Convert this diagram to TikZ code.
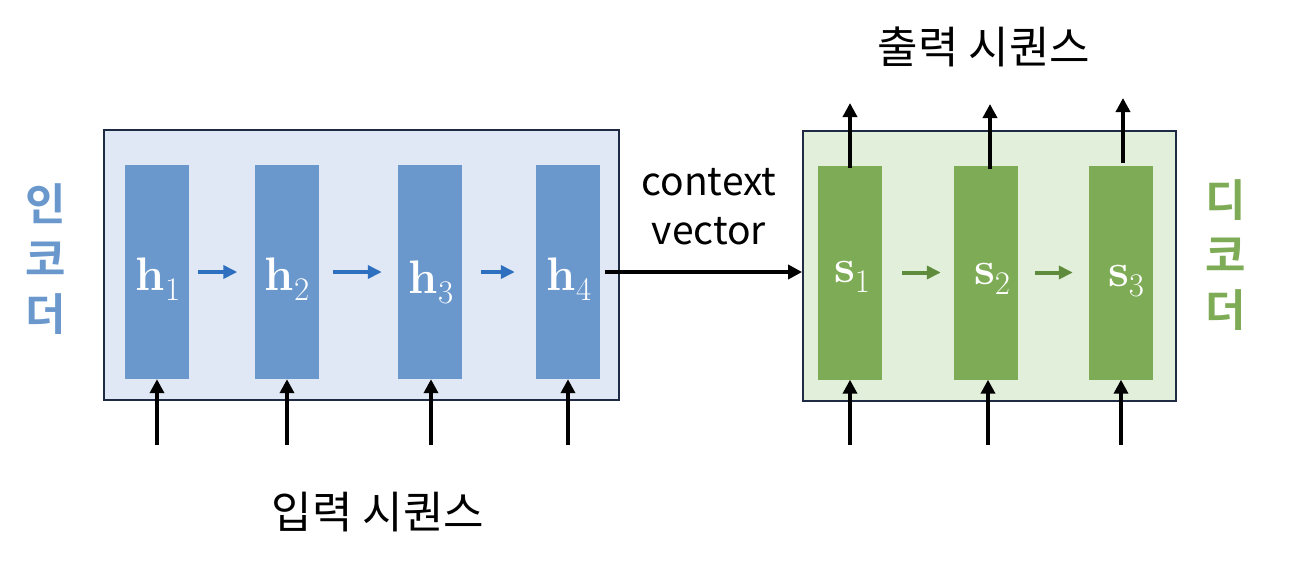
\documentclass[tikz,border=0pt]{standalone}
\usepackage{fontspec}
\newfontfamily\kr{Noto Sans CJK KR}
\newfontfamily\krb{Noto Sans CJK KR Bold}
\usetikzlibrary{arrows.meta}
\definecolor{encfill}{HTML}{DFE8F4}
\definecolor{decfill}{HTML}{E2EFDA}
\definecolor{frame}{HTML}{1F2A44}
\definecolor{hblue}{HTML}{6A98CD}
\definecolor{sgreen}{HTML}{7EAB55}
\definecolor{arrblue}{HTML}{2E6FC0}
\definecolor{arrgreen}{HTML}{5E8C3C}
\newcommand{\vecsub}[2]{\textbf{#1}\raisebox{-10pt}{\fontsize{33}{33}\selectfont #2}}
\begin{document}
\begin{tikzpicture}[x=1pt,y=-1pt,
  outerbox/.style={draw=frame,line width=1.8pt,inner sep=0,minimum height=270pt},
  cell/.style={inner sep=0,minimum width=64pt,minimum height=214pt,text=white,font=\fontsize{47}{47}\selectfont},
  hcell/.style={cell,fill=hblue},
  scell/.style={cell,fill=sgreen},
  inarr/.style={line width=4pt,-{Triangle[length=14pt,width=14pt]}},
  harr/.style={line width=4pt,draw=arrblue,-{Triangle[length=14pt,width=13pt]}},
  sarr/.style={line width=4pt,draw=arrgreen,-{Triangle[length=14pt,width=13pt]}},
  side/.style={font=\krb\fontsize{44}{55}\selectfont,align=center},
  lbl/.style={font=\kr\fontsize{44}{44}\selectfont}
]
\useasboundingbox (0,0) rectangle (1308,560);
% boxes
\node[outerbox,fill=encfill,minimum width=515pt] (enc) at (361.5,265) {};
\node[outerbox,fill=decfill,minimum width=373pt] (dec) at (989.5,266) {};
% encoder cells
\node[hcell] (h1) at (157,272) {};
\node[hcell] (h2) at (286.5,272) {};
\node[hcell] (h3) at (430,272) {};
\node[hcell] (h4) at (568,272) {};
\node[text=white,font=\fontsize{47}{47}\selectfont,inner sep=0] (h1l) at (158,279) {\vecsub{h}{1}};
\node[text=white,font=\fontsize{47}{47}\selectfont,inner sep=0] (h2l) at (287,279) {\vecsub{h}{2}};
\node[text=white,font=\fontsize{47}{47}\selectfont,inner sep=0] (h3l) at (431,282) {\vecsub{h}{3}};
\node[text=white,font=\fontsize{47}{47}\selectfont,inner sep=0] (h4l) at (569,279) {\vecsub{h}{4}};
% decoder cells
\node[scell] (s1) at (850,272.5) {};
\node[scell] (s2) at (986,272.5) {};
\node[scell] (s3) at (1121,272.5) {};
\node[text=white,font=\fontsize{47}{47}\selectfont,inner sep=0] (s1l) at (852,277) {\vecsub{s}{1}};
\node[text=white,font=\fontsize{47}{47}\selectfont,inner sep=0] (s2l) at (992,279) {\vecsub{s}{2}};
\node[text=white,font=\fontsize{47}{47}\selectfont,inner sep=0] (s3l) at (1126,281) {\vecsub{s}{3}};
% horizontal arrows
\draw[harr] ([xshift=9pt]h1.east) -- ([xshift=-17pt]h2.west);
\draw[harr] ([xshift=14pt]h2.east) -- ([xshift=-16pt]h3.west);
\draw[harr] ([xshift=19pt]h3.east) -- ([xshift=-21pt]h4.west);
\draw[sarr] ([xshift=20pt]s1.east) -- ([xshift=-13pt]s2.west);
\draw[sarr] ([xshift=17pt]s2.east) -- ([xshift=-16pt]s3.west);
% context vector
\draw[inarr] ([xshift=5pt]h4.east) -- (h4.east -| dec.west);
\node[font=\kr\fontsize{39}{49}\selectfont,align=center] (ctx) at (709,207) {context\\vector};
% input arrows
\foreach \n/\x in {h1/157,h2/287,h3/431,h4/568,s1/850,s2/988,s3/1121}{
  \coordinate (in\n) at (\x,445);
  \draw[inarr] (in\n) -- (in\n |- \n.south);
}
% output arrows
\coordinate (o1) at (850,103);
\coordinate (o2) at (990,104);
\coordinate (o3) at (1123,98);
\draw[inarr] ([yshift=-3pt]s1.north -| o1) -- (o1);
\draw[inarr] ([yshift=-4pt]s2.north -| o2) -- (o2);
\draw[inarr] ([yshift=2pt]s3.north -| o3) -- (o3);
% labels
\node[lbl] (outl) at (984,47) {출력 시퀀스};
\node[lbl] (inl) at (378,512) {입력 시퀀스};
\node[side,text=hblue] (encl) at (46,259) {인\\코\\더};
\node[side,text=sgreen] (decl) at (1226,255) {디\\코\\더};
\end{tikzpicture}
\end{document}
